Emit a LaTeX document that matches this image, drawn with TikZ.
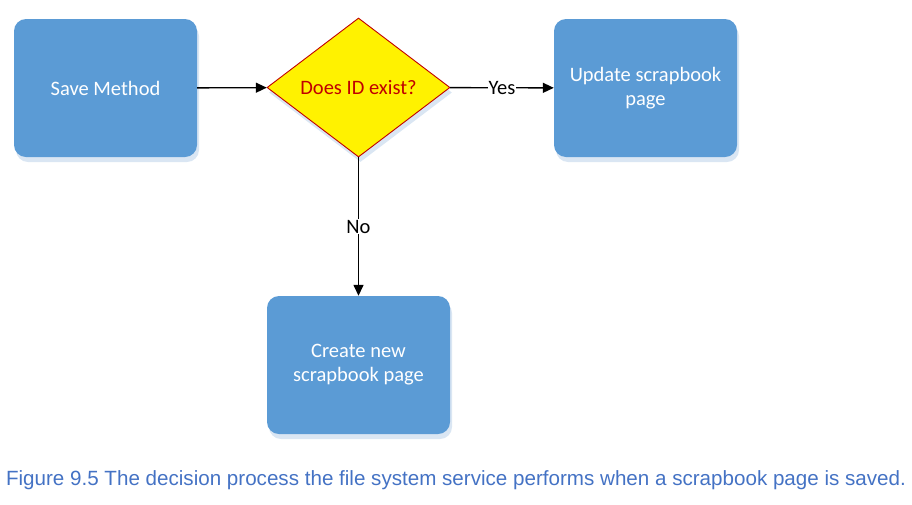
\documentclass[tikz,border=0pt]{standalone}
\usepackage{fontspec}
\setmainfont{Carlito}
\newfontfamily\captionfont{Liberation Sans}
\usetikzlibrary{shapes.geometric, arrows.meta, shadows}
\definecolor{boxblue}{HTML}{5B9BD5}
\definecolor{shadowblue}{HTML}{DAE6F3}
\definecolor{darkred}{HTML}{C00000}
\definecolor{captionblue}{HTML}{4472C4}

\begin{document}
\begin{tikzpicture}[
  x=1pt, y=-1pt,
  >={Triangle[length=11pt, width=10pt]},
  every node/.style={font=\fontsize{20.5}{24}\selectfont},
  boxshadow/.style={drop shadow={fill=shadowblue, shadow xshift=2pt, shadow yshift=-5pt, opacity=1}},
  process/.style={rectangle, rounded corners=12pt, fill=boxblue, text=white, align=center,
    minimum width=183pt, minimum height=138pt, boxshadow},
  decision/.style={diamond, draw=darkred, line width=0.9pt, fill=yellow, text=darkred,
    minimum width=183pt, minimum height=139pt, inner sep=0pt, boxshadow},
  label/.style={fill=white, inner sep=1pt, text=black},
  flow/.style={draw, ->, line width=1.4pt},
]
  \useasboundingbox (0,0) rectangle (912,504);

  % Row 1: start, decision, yes branch
  \node[process] (save) at (105.5,88) {Save Method};
  \node[decision] (check) at (358.5,87.5) {Does ID exist?};
  \node[process] (update) at (645.5,88) {Update scrapbook\\page};

  % Row 2: no branch
  \node[process] (create) at (358.5,365) {Create new\\scrapbook page};

  % Edges
  \draw[flow] (save) -- (check);
  \draw[flow] (check) -- node[label] {Yes} (update);
  \draw[flow] (check) -- node[label] {No} (create);

  % Caption
  \node[anchor=base, font=\captionfont\fontsize{20.6}{24}\selectfont, text=captionblue] (caption) at (456,485.5)
    {Figure 9.5 The decision process the file system service performs when a scrapbook page is saved.};
\end{tikzpicture}
\end{document}
